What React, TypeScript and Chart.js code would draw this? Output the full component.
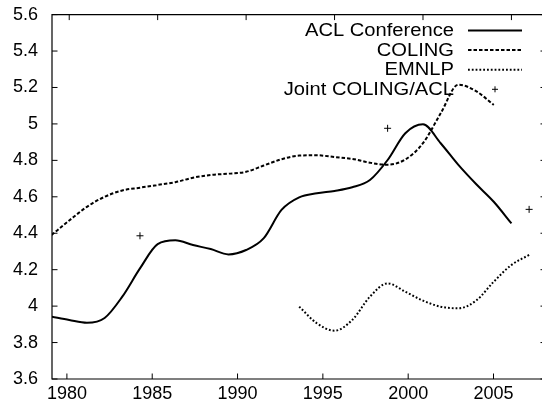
import React, { useEffect, useRef } from 'react';
import { Chart, registerables } from 'chart.js';

Chart.register(...registerables);

// ---- data ----
const aclYears = [1979, 1980, 1981, 1982, 1983, 1984, 1985, 1986, 1987, 1988, 1989, 1990, 1991, 1992, 1993, 1994, 1995, 1996, 1997, 1998, 1999, 2000, 2001, 2002, 2003, 2004, 2005];
const aclValues = [3.942, 3.924, 3.909, 3.935, 4.052, 4.207, 4.34, 4.361, 4.335, 4.313, 4.284, 4.308, 4.373, 4.528, 4.597, 4.619, 4.632, 4.652, 4.692, 4.802, 4.949, 4.998, 4.894, 4.775, 4.67, 4.573, 4.454];

const colingYears = [1979, 1980, 1981, 1982, 1983, 1984, 1985, 1986, 1987, 1988, 1989, 1990, 1991, 1992, 1993, 1994, 1995, 1996, 1997, 1998, 1999, 2000, 2001, 2002, 2003, 2004];
const colingValues = [4.39, 4.47, 4.545, 4.6, 4.635, 4.65, 4.665, 4.68, 4.705, 4.72, 4.727, 4.737, 4.772, 4.806, 4.826, 4.828, 4.818, 4.808, 4.787, 4.776, 4.805, 4.894, 5.058, 5.215, 5.18, 5.104];

const emnlpYears = [1993, 1994, 1995, 1996, 1997, 1998, 1999, 2000, 2001, 2002, 2003, 2004, 2005, 2006];
const emnlpValues = [3.997, 3.906, 3.865, 3.924, 4.052, 4.125, 4.079, 4.03, 3.997, 3.988, 4.03, 4.134, 4.226, 4.281];

const jointYears = [1984, 1998, 2006];
const jointValues = [4.386, 4.976, 4.531];

const seriesLabels = ['ACL Conference', 'COLING', 'EMNLP', 'Joint COLING/ACL'];
const xTickYears = [1980, 1985, 1990, 1995, 2000, 2005];

const toPoints = (xs: number[], ys: number[]) => xs.map((x, i) => ({ x, y: ys[i] }));

const FONT = "'Liberation Sans', Arial, Helvetica, sans-serif";

const framePlugin = {
  id: 'gpFrame',
  afterDraw(chart: any) {
    const { ctx, chartArea: a, scales } = chart;
    const tl = 5.5;
    ctx.save();
    ctx.strokeStyle = '#000';
    ctx.lineWidth = 1;
    ctx.setLineDash([]);
    ctx.beginPath();
    scales.y.ticks.forEach((t: any) => {
      const py = scales.y.getPixelForValue(t.value);
      ctx.moveTo(a.left, py);
      ctx.lineTo(a.left + tl, py);
      ctx.moveTo(a.right, py);
      ctx.lineTo(a.right - 1.5, py);
    });
    xTickYears.forEach((v) => {
      const pb = scales.xb.getPixelForValue(v);
      ctx.moveTo(pb, a.bottom);
      ctx.lineTo(pb, a.bottom - tl);
      const pt = scales.x.getPixelForValue(v);
      ctx.moveTo(pt, a.top);
      ctx.lineTo(pt, a.top + tl);
    });
    ctx.stroke();
    ctx.lineWidth = 1.2;
    ctx.beginPath();
    ctx.moveTo(a.right + 2, a.top);
    ctx.lineTo(a.left, a.top);
    ctx.lineTo(a.left, a.bottom);
    ctx.lineTo(a.right + 2, a.bottom);
    ctx.stroke();
    ctx.restore();
  },
};

const keyPlugin = {
  id: 'gpKey',
  afterDatasetsDraw(chart: any) {
    const { ctx } = chart;
    const textRight = 454;
    const x0 = 468;
    const x1 = 522;
    const top = 30.5;
    const step = 19.6;
    ctx.save();
    chart.data.datasets.forEach((ds: any, i: number) => {
      const y = top + i * step;
      ctx.save();
      ctx.translate(textRight, y + 0.5);
      ctx.scale(1.12, 1);
      ctx.fillStyle = '#000';
      ctx.font = `18px ${FONT}`;
      ctx.textAlign = 'right';
      ctx.textBaseline = 'middle';
      ctx.fillText(ds.label, 0, 0);
      ctx.restore();
      ctx.strokeStyle = '#000';
      if (ds.showLine === false) {
        const cx = (x0 + x1) / 2;
        const r = 3;
        ctx.setLineDash([]);
        ctx.lineWidth = 1;
        ctx.beginPath();
        ctx.moveTo(cx - r, y);
        ctx.lineTo(cx + r, y);
        ctx.moveTo(cx, y - r);
        ctx.lineTo(cx, y + r);
        ctx.stroke();
      } else {
        ctx.setLineDash(ds.borderDash || []);
        ctx.lineWidth = ds.borderWidth;
        ctx.beginPath();
        ctx.moveTo(x0, y);
        ctx.lineTo(x1, y);
        ctx.stroke();
      }
    });
    ctx.restore();
  },
};

export default function App() {
  const ref = useRef<HTMLCanvasElement | null>(null);

  useEffect(() => {
    if (!ref.current) return;
    const chart = new Chart(ref.current, {
      type: 'line',
      data: {
        datasets: [
          {
            label: seriesLabels[0],
            data: toPoints(aclYears, aclValues),
            borderColor: '#000',
            borderWidth: 2,
            pointRadius: 0,
            cubicInterpolationMode: 'monotone',
            fill: false,
          },
          {
            label: seriesLabels[1],
            data: toPoints(colingYears, colingValues),
            borderColor: '#000',
            borderWidth: 2,
            borderDash: [3.5, 2],
            pointRadius: 0,
            cubicInterpolationMode: 'monotone',
            fill: false,
          },
          {
            label: seriesLabels[2],
            data: toPoints(emnlpYears, emnlpValues),
            borderColor: '#000',
            borderWidth: 2,
            borderDash: [1.8, 2],
            pointRadius: 0,
            cubicInterpolationMode: 'monotone',
            fill: false,
          },
          {
            label: seriesLabels[3],
            data: toPoints(jointYears, jointValues),
            borderColor: '#000',
            backgroundColor: '#000',
            showLine: false,
            pointStyle: 'cross',
            pointRadius: 3.5,
            pointBorderWidth: 1,
            pointHoverRadius: 3.5,
          },
        ],
      } as any,
      options: {
        animation: false,
        responsive: false,
        devicePixelRatio: 1,
        layout: { autoPadding: false, padding: { top: 14.6, left: 0, right: 0, bottom: 0 } },
        plugins: {
          legend: { display: false },
          tooltip: { enabled: false },
        },
        events: [],
        scales: {
          x: {
            type: 'linear',
            axis: 'x',
            position: 'top',
            display: false,
            min: 1979.026,
            max: 2006.728,
          },
          xb: {
            type: 'linear',
            axis: 'x',
            position: 'bottom',
            min: 1979.127,
            max: 2007.842,
            grid: { display: false, drawTicks: false },
            border: { display: false },
            ticks: {
              stepSize: 5,
              includeBounds: false,
              autoSkip: false,
              maxRotation: 0,
              padding: 4,
              color: '#000',
              font: { family: FONT, size: 18 },
              callback: (v: any) => String(v),
            },
            afterFit: (s: any) => {
              s.height = 29;
              s.paddingLeft = 0;
              s.paddingRight = 0;
            },
          },
          y: {
            type: 'linear',
            position: 'left',
            min: 3.6,
            max: 5.6,
            grid: { display: false, drawTicks: false },
            border: { display: false },
            ticks: {
              stepSize: 0.2,
              padding: 14,
              color: '#000',
              font: { family: FONT, size: 18 },
              callback: (v: any) => String(Number(Number(v).toFixed(1))),
            },
            afterFit: (s: any) => {
              s.width = 52;
              s.paddingTop = 0;
              s.paddingBottom = 0;
            },
          },
        },
      } as any,
      plugins: [framePlugin, keyPlugin],
    });
    return () => chart.destroy();
  }, []);

  return (
    <div
      style={{
        position: 'fixed',
        left: 0,
        top: 0,
        width: 542,
        height: 408,
        overflow: 'hidden',
        background: '#fff',
      }}
    >
      <canvas ref={ref} width={542} height={408} style={{ display: 'block', width: 542, height: 408 }} />
    </div>
  );
}
